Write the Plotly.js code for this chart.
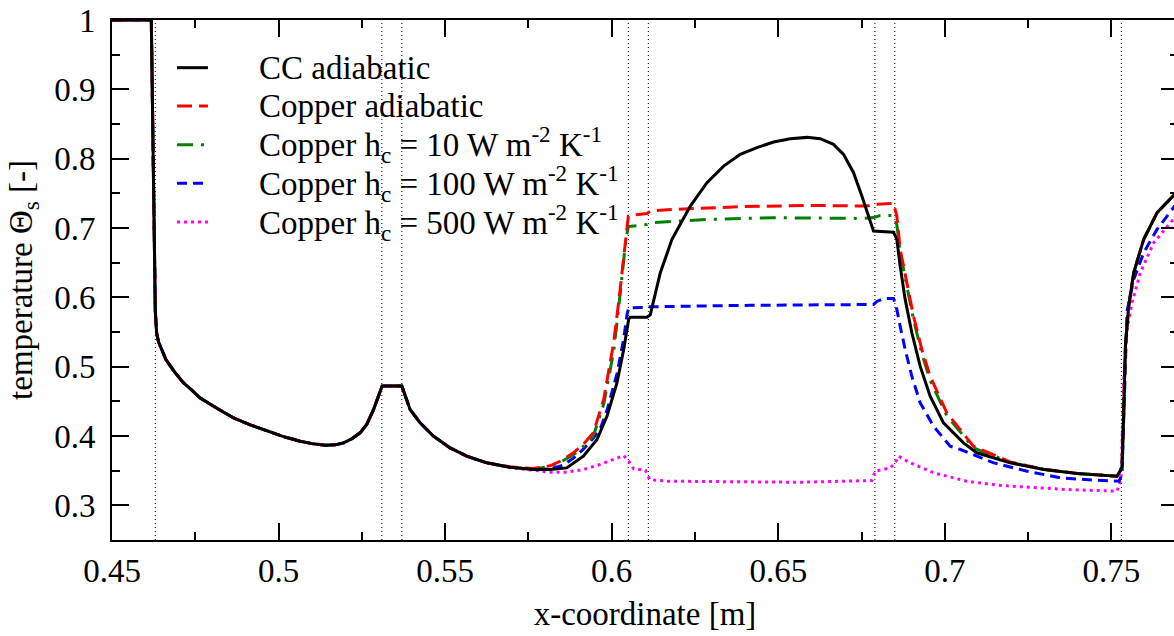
<!DOCTYPE html>
<html>
<head>
<meta charset="utf-8">
<script src="https://cdn.plot.ly/plotly-3.0.1.min.js"></script>
<style>
html,body{margin:0;padding:0;background:#fff;overflow:hidden;width:1174px;height:636px;font-family:serif;}
#chart{width:1178px;height:636px;}
</style>
</head>
<body>
<div id="chart"></div>
<script>
// ---- data ----
// shared part (all five curves coincide)
const xCommon = [0.45, 0.4618, 0.4622, 0.4626, 0.4630, 0.4634, 0.4640, 0.4650, 0.4662, 0.4690, 0.4714, 0.4740, 0.4764, 0.4815, 0.4865, 0.4915, 0.4965, 0.5015, 0.5065, 0.5100, 0.5140, 0.5170, 0.5195, 0.5220, 0.5245, 0.5265, 0.5285, 0.5300, 0.5311, 0.5370, 0.5382, 0.5395, 0.5425, 0.5465, 0.5515, 0.5565, 0.5625];
const yCommon = [1.0, 1.0, 0.86, 0.72, 0.58, 0.548, 0.535, 0.524, 0.510, 0.491, 0.477, 0.466, 0.455, 0.440, 0.426, 0.416, 0.407, 0.399, 0.3925, 0.389, 0.3867, 0.3872, 0.390, 0.396, 0.4046, 0.417, 0.438, 0.456, 0.472, 0.472, 0.455, 0.438, 0.419, 0.3997, 0.3829, 0.3709, 0.3613];

const xCC = [0.5695, 0.5765, 0.5815, 0.5865, 0.5915, 0.5956, 0.5986, 0.6016, 0.6036, 0.6051, 0.6056, 0.6106, 0.6116, 0.6146, 0.6181, 0.6236, 0.6286, 0.6336, 0.6386, 0.6436, 0.6486, 0.6536, 0.6586, 0.6626, 0.6666, 0.6696, 0.6726, 0.6751, 0.6771, 0.6786, 0.6846, 0.6856, 0.6866, 0.6881, 0.6901, 0.6926, 0.6956, 0.6996, 0.7056, 0.7096, 0.7196, 0.7297, 0.7397, 0.7517, 0.7527, 0.7532, 0.7537, 0.7542, 0.7552, 0.7567, 0.7597, 0.7637, 0.7690, 0.7700];
const yCC = [0.3550, 0.3517, 0.3517, 0.3540, 0.3709, 0.3950, 0.4287, 0.4768, 0.5248, 0.5681, 0.5714, 0.5714, 0.5750, 0.6355, 0.6836, 0.7316, 0.7653, 0.7893, 0.8062, 0.8159, 0.8241, 0.8288, 0.8307, 0.8288, 0.8206, 0.8062, 0.7798, 0.7460, 0.7172, 0.6955, 0.6940, 0.6836, 0.6450, 0.5970, 0.5489, 0.5007, 0.4575, 0.4190, 0.3901, 0.3758, 0.3613, 0.3517, 0.3458, 0.3420, 0.3500, 0.3565, 0.4335, 0.5296, 0.5873, 0.6355, 0.6836, 0.7220, 0.7485, 0.7530];

const xCuAd = [0.5695, 0.5765, 0.5815, 0.5845, 0.5885, 0.5915, 0.5945, 0.5976, 0.6006, 0.6022, 0.6033, 0.6043, 0.6050, 0.6080, 0.6106, 0.6116, 0.6186, 0.6386, 0.6586, 0.6766, 0.6791, 0.6846, 0.6856, 0.6866, 0.6886, 0.6906, 0.6931, 0.6956, 0.7006, 0.7086, 0.7196, 0.7297, 0.7397, 0.7517, 0.7527, 0.7532, 0.7537, 0.7542, 0.7552, 0.7567, 0.7597, 0.7637, 0.7690, 0.7700];
const yCuAd = [0.3555, 0.3530, 0.3570, 0.3636, 0.3758, 0.3880, 0.4046, 0.4527, 0.5350, 0.5970, 0.6450, 0.6930, 0.7172, 0.7196, 0.7210, 0.7244, 0.7268, 0.7307, 0.7326, 0.7316, 0.7340, 0.7355, 0.7172, 0.6691, 0.6210, 0.5729, 0.5248, 0.4863, 0.4335, 0.3853, 0.3625, 0.3522, 0.3460, 0.3420, 0.3500, 0.3565, 0.4335, 0.5296, 0.5873, 0.6355, 0.6836, 0.7220, 0.7485, 0.7530];

const xH10 = [0.5695, 0.5765, 0.5815, 0.5845, 0.5885, 0.5915, 0.5945, 0.5976, 0.6006, 0.6022, 0.6033, 0.6043, 0.6050, 0.6086, 0.6106, 0.6116, 0.6286, 0.6486, 0.6756, 0.6786, 0.6806, 0.6846, 0.6856, 0.6866, 0.6886, 0.6906, 0.6931, 0.6956, 0.7006, 0.7086, 0.7196, 0.7297, 0.7397, 0.7517, 0.7527, 0.7532, 0.7537, 0.7542, 0.7552, 0.7567, 0.7597, 0.7637, 0.7690, 0.7700];
const yH10 = [0.3552, 0.3525, 0.3560, 0.3620, 0.3730, 0.3850, 0.4000, 0.4460, 0.5220, 0.5900, 0.6400, 0.6850, 0.7020, 0.7038, 0.7050, 0.7076, 0.7124, 0.7148, 0.7138, 0.7150, 0.7180, 0.7180, 0.7050, 0.6650, 0.6170, 0.5680, 0.5190, 0.4800, 0.4290, 0.3830, 0.3620, 0.3520, 0.3460, 0.3420, 0.3500, 0.3565, 0.4335, 0.5296, 0.5873, 0.6355, 0.6836, 0.7220, 0.7485, 0.7530];

const xH100 = [0.5695, 0.5765, 0.5815, 0.5855, 0.5885, 0.5915, 0.5945, 0.5965, 0.5986, 0.6016, 0.6036, 0.6046, 0.6051, 0.6106, 0.6116, 0.6416, 0.6786, 0.6796, 0.6816, 0.6846, 0.6856, 0.6866, 0.6881, 0.6901, 0.6926, 0.6966, 0.7016, 0.7047, 0.7147, 0.7247, 0.7347, 0.7448, 0.7523, 0.7532, 0.7537, 0.7542, 0.7547, 0.7567, 0.7597, 0.7637, 0.7690, 0.7700];
const yH100 = [0.3550, 0.3520, 0.3525, 0.3580, 0.3680, 0.3810, 0.3970, 0.4094, 0.4370, 0.4900, 0.5400, 0.5750, 0.5850, 0.5855, 0.5864, 0.5885, 0.5897, 0.5940, 0.5984, 0.5984, 0.5825, 0.5584, 0.5248, 0.4863, 0.4479, 0.4141, 0.3853, 0.3805, 0.3613, 0.3492, 0.3397, 0.3363, 0.3348, 0.3450, 0.4200, 0.5200, 0.5800, 0.6258, 0.6643, 0.6980, 0.7316, 0.7360];

const xH500 = [0.5695, 0.5765, 0.5815, 0.5865, 0.5915, 0.5965, 0.6006, 0.6036, 0.6051, 0.6066, 0.6101, 0.6114, 0.6166, 0.6566, 0.6781, 0.6791, 0.6836, 0.6851, 0.6861, 0.6896, 0.6966, 0.7066, 0.7167, 0.7267, 0.7367, 0.7517, 0.7529, 0.7537, 0.7547, 0.7562, 0.7587, 0.7627, 0.7690, 0.7700];
const yH500 = [0.3542, 0.3507, 0.3478, 0.3478, 0.3517, 0.3589, 0.3661, 0.3719, 0.3637, 0.3527, 0.3507, 0.3372, 0.3348, 0.3333, 0.3358, 0.3492, 0.3540, 0.3613, 0.3709, 0.3613, 0.3469, 0.3348, 0.3286, 0.3252, 0.3228, 0.3204, 0.3372, 0.4815, 0.5537, 0.5922, 0.6355, 0.6788, 0.7148, 0.7180];

// boundaries (vertical dotted lines)
const boundaries = [0.463, 0.531, 0.537, 0.605, 0.611, 0.679, 0.685, 0.753];

// ticks
const xTickVals = [0.45, 0.5, 0.55, 0.6, 0.65, 0.7, 0.75];
const xTickText = ['0.45', '0.5', '0.55', '0.6', '0.65', '0.7', '0.75'];
const xMinorVals = [0.475, 0.525, 0.575, 0.625, 0.675, 0.725, 0.775];
const yTickVals = [0.3, 0.4, 0.5, 0.6, 0.7, 0.8, 0.9, 1.0];
const yTickText = ['0.3', '0.4', '0.5', '0.6', '0.7', '0.8', '0.9', '1'];
const yMinorVals = [0.35, 0.45, 0.55, 0.65, 0.75, 0.85, 0.95];

// series names
const names = [
  'CC adiabatic',
  'Copper adiabatic',
  'Copper h<sub>c</sub> = 10 W m<sup>-2</sup> K<sup>-1</sup>',
  'Copper h<sub>c</sub> = 100 W m<sup>-2</sup> K<sup>-1</sup>',
  'Copper h<sub>c</sub> = 500 W m<sup>-2</sup> K<sup>-1</sup>'
];

// ---- styles ----
const styles = [
  {color: '#000000', width: 3, dash: 'solid'},
  {color: '#ff0000', width: 3, dash: '15px,7px'},
  {color: '#008000', width: 3, dash: '16px,8px,3px,8px'},
  {color: '#0000ff', width: 3, dash: '10px,6px'},
  {color: '#ff00ff', width: 3, dash: '3px,4px'}
];

const seriesX = [xCC, xCuAd, xH10, xH100, xH500].map(a => xCommon.concat(a));
const seriesY = [yCC, yCuAd, yH10, yH100, yH500].map(a => yCommon.concat(a));

const traces = [];
// draw coloured curves first, black on top
[4, 3, 2, 1, 0].forEach(i => {
  traces.push({
    type: 'scatter', mode: 'lines',
    x: seriesX[i], y: seriesY[i],
    name: names[i],
    line: {color: styles[i].color, width: styles[i].width, dash: styles[i].dash},
    showlegend: false,
    hoverinfo: 'skip'
  });
});

const FONT = 'serif';
function txt() { return {family: FONT, size: 33, color: '#000'}; }

const shapes = boundaries.map(b => ({
  type: 'line', xref: 'x', yref: 'paper', x0: b, x1: b, y0: 0, y1: 1,
  line: {color: '#000', width: 1, dash: '1px,3px'}, layer: 'below'
}));

// manual legend (to match compact row spacing)
const legRows = [0.9083, 0.8346, 0.7602, 0.6860, 0.6115];
const annotations = [];
names.forEach((n, i) => {
  shapes.push({
    type: 'line', xref: 'paper', yref: 'paper',
    x0: 0.061, x1: 0.090, y0: legRows[i], y1: legRows[i],
    line: {color: styles[i].color, width: styles[i].width, dash: styles[i].dash}
  });
  annotations.push({
    xref: 'paper', yref: 'paper', x: 0.136, y: legRows[i],
    xanchor: 'left', yanchor: 'middle', showarrow: false,
    text: n, font: txt()
  });
});

function axisBase() {
  return {
    showgrid: false, zeroline: false,
    showline: true, linecolor: '#000', linewidth: 2,
    ticks: 'inside', ticklen: 17, tickwidth: 2, tickcolor: '#000',
    mirror: 'ticks',
    tickfont: txt(),
    tickmode: 'array'
  };
}

const layout = {
  width: 1178, height: 636,
  margin: {l: 112, r: 0, t: 20, b: 96},
  paper_bgcolor: '#fff', plot_bgcolor: '#fff',
  showlegend: false,
  font: txt(),
  xaxis: Object.assign(axisBase(), {
    range: [0.45, 0.77],
    tickvals: xTickVals, ticktext: xTickText,
    minor: {tickmode: 'array', tickvals: xMinorVals, ticks: 'inside', ticklen: 8, tickwidth: 2, tickcolor: '#000'},
    ticklabelstandoff: 0,
    title: {text: 'x-coordinate [m]', font: txt(), standoff: 14}
  }),
  yaxis: Object.assign(axisBase(), {
    range: [0.25, 1.0],
    tickvals: yTickVals, ticktext: yTickText,
    minor: {tickmode: 'array', tickvals: yMinorVals, ticks: 'inside', ticklen: 8, tickwidth: 2, tickcolor: '#000'},
    ticklabelstandoff: 8,
    title: {text: 'temperature Θ<sub>s</sub> [-]', font: txt(), standoff: 12}
  }),
  shapes: shapes,
  annotations: annotations
};

Plotly.newPlot('chart', traces, layout, {displayModeBar: false, staticPlot: true});
</script>
</body>
</html>
